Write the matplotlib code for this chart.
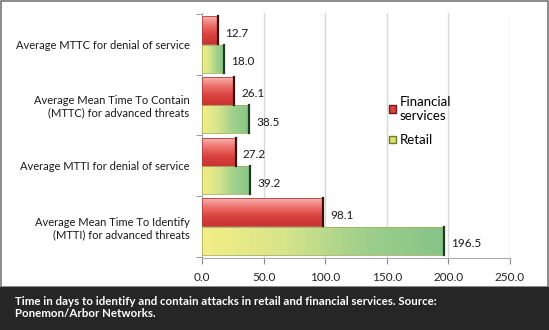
import numpy as np
import matplotlib
matplotlib.use("Agg")
import matplotlib.pyplot as plt
from matplotlib.patches import Rectangle, Patch
from matplotlib.colors import LinearSegmentedColormap

plt.rcParams['font.family'] = ['Lato', 'DejaVu Sans']

# 資料（由下而上）
categories = [
    "Average Mean Time To Identify\n(MTTI) for advanced threats",
    "Average MTTI for denial of service",
    "Average Mean Time To Contain\n(MTTC) for advanced threats",
    "Average MTTC for denial of service",
]
financial = [98.1, 27.2, 26.1, 12.7]
retail = [196.5, 39.2, 38.5, 18.0]
xticks = [0, 50, 100, 150, 200, 250]

fig = plt.figure(figsize=(5.49, 3.3), dpi=100)
ax = fig.add_axes([0.368, 0.218, 0.561, 0.743])

y = np.arange(len(categories))
h = 0.46
bars_f = ax.barh(y + 0.235, financial, height=h, color='none', edgecolor='none', zorder=3)
bars_r = ax.barh(y - 0.235, retail, height=h, color='none', edgecolor='none', zorder=3)

red_cmap = LinearSegmentedColormap.from_list('red', ['#f6b3b0', '#ec6f6a', '#d9413d', '#c93533'])
green_cmap = LinearSegmentedColormap.from_list('grn', ['#f4ee86', '#d6e48a', '#9fd08c', '#86c488'])

# 漸層填色
for b in bars_f:
    x0, y0, w, hh = b.get_x(), b.get_y(), b.get_width(), b.get_height()
    grad = np.linspace(0, 1, 64).reshape(-1, 1)
    im = ax.imshow(grad, cmap=red_cmap, extent=[x0, x0 + w, y0, y0 + hh],
                   origin='upper', aspect='auto', zorder=3)
    im.set_clip_path(b)
    ax.add_patch(Rectangle((x0, y0), w, hh, fill=False, edgecolor='#b04040', lw=0.6, zorder=4))
    ax.plot([x0 + w, x0 + w], [y0, y0 + hh], color='#3a1010', lw=1.6, zorder=5)

for b in bars_r:
    x0, y0, w, hh = b.get_x(), b.get_y(), b.get_width(), b.get_height()
    grad = np.linspace(0, 1, 64).reshape(1, -1)
    im = ax.imshow(grad, cmap=green_cmap, extent=[x0, x0 + w, y0, y0 + hh],
                   origin='lower', aspect='auto', zorder=3)
    im.set_clip_path(b)
    ax.add_patch(Rectangle((x0, y0), w, hh, fill=False, edgecolor='#a8b060', lw=0.6, zorder=4))
    ax.plot([x0 + w, x0 + w], [y0, y0 + hh], color='#1f3a1f', lw=1.6, zorder=5)

# 數值標籤
for b, v in list(zip(bars_f, financial)) + list(zip(bars_r, retail)):
    ax.annotate(f"{v:.1f}", (b.get_width(), b.get_y() + b.get_height() / 2 - 0.05),
                xytext=(7, 0), textcoords='offset pixels', va='center', ha='left',
                fontsize=8.5, color='#1a1a1a', zorder=6)

ax.set_xlim(0, 250)
ax.set_ylim(-0.52, 3.52)
ax.set_xticks(xticks)
ax.set_xticklabels([f"{t:.1f}" for t in xticks], fontsize=8.5, color='#222222')
ax.set_yticks(y)
ax.set_yticklabels(categories, fontsize=8, color='#1a1a1a', linespacing=1.15)
ax.tick_params(axis='y', length=0, pad=9)
ax.set_yticks(np.arange(-0.5, 4.0, 1.0), minor=True)
ax.tick_params(axis='y', which='minor', length=4, color='#888888', direction='out')
ax.tick_params(axis='x', length=4, color='#888888', pad=6)
ax.grid(axis='x', color='#d9d9d9', lw=1, zorder=0)
for s in ['top', 'right']:
    ax.spines[s].set_visible(False)
ax.spines['left'].set_color('#aaaaaa')
ax.spines['bottom'].set_color('#aaaaaa')

handles = [Patch(facecolor='#d9413d', edgecolor='#6a1a1a'),
           Patch(facecolor='#d8e46a', edgecolor='#6a7a2a')]
ax.legend(handles, ['Financial\nservices', 'Retail'], loc='upper left',
          bbox_to_anchor=(0.57, 0.71), frameon=False, fontsize=9.5,
          handlelength=0.5, handleheight=0.5, handletextpad=0.3, labelspacing=0.95)

# 外框與說明欄
fig.patches.append(Rectangle((0.002, 0.13), 0.996, 0.866, transform=fig.transFigure,
                             fill=False, edgecolor='#777777', lw=1.2))
fig.patches.append(Rectangle((0, 0), 1, 0.13, transform=fig.transFigure,
                             facecolor='#262626', edgecolor='none'))
fig.text(0.027, 0.068, "Time in days to identify and contain attacks in retail and financial services. Source:\nPonemon/Arbor Networks.",
         color='white', fontsize=8.3, fontweight='bold', va='center', ha='left', linespacing=1.15)

fig.savefig('out.png', dpi=100)
